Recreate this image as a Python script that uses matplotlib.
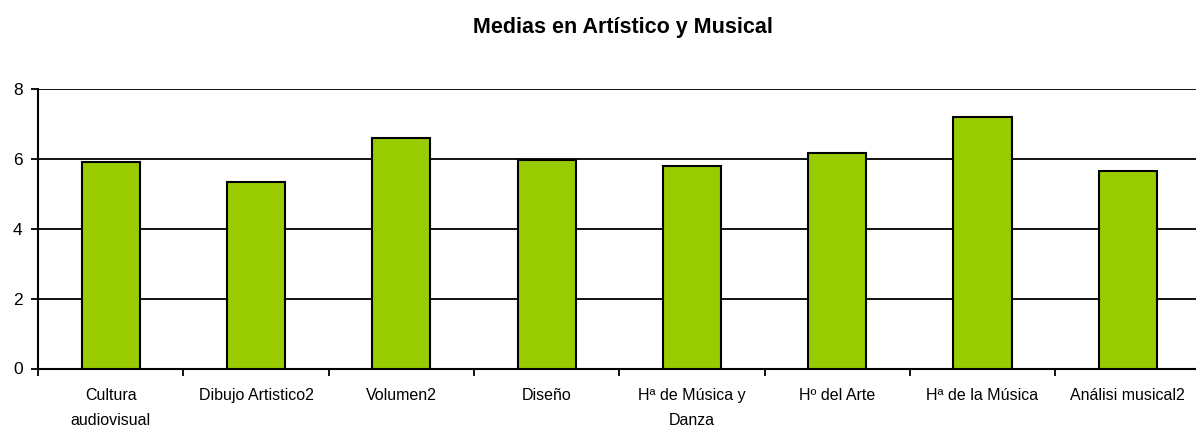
import matplotlib
matplotlib.use("Agg")
import matplotlib.pyplot as plt
import numpy as np

categories = ["Cultura\naudiovisual", "Dibujo Artistico2", "Volumen2", "Diseño",
              "Hª de Música y\nDanza", "Hº del Arte", "Hª de la Música", "Análisi musical2"]
values = [5.92, 5.35, 6.59, 5.97, 5.80, 6.18, 7.19, 5.65]
yticks = [0, 2, 4, 6, 8]
title = "Medias en Artístico y Musical"

plt.rcParams['font.family'] = ['Liberation Sans', 'DejaVu Sans']

fig = plt.figure(figsize=(11.96, 4.29), dpi=100)
W, H = 1196, 429
x0, x1 = 38, 1200.5
y0, y1 = 368.5, 89
ax = fig.add_axes([x0 / W, (H - y0) / H, (x1 - x0) / W, (y0 - y1) / H])

x = np.arange(len(categories))
ax.bar(x, values, width=0.4, color="#99CC00", edgecolor="black", linewidth=1.5, zorder=3)

ax.set_xlim(-0.5, len(categories) - 0.5)
ax.set_ylim(0, 8)
ax.set_yticks(yticks)
ax.set_yticklabels([str(v) for v in yticks], fontsize=12.5)
ax.yaxis.grid(True, color="black", linewidth=1.3, zorder=0)
ax.set_axisbelow(True)

ax.set_xticks(np.arange(len(categories) + 1) - 0.5)
ax.set_xticklabels([])
ax.set_xticks(x, minor=True)
ax.set_xticklabels(categories, minor=True, fontsize=11.5, linespacing=1.85, va="top")
ax.tick_params(axis="x", which="minor", length=0, pad=14)
ax.tick_params(axis="x", which="major", length=5, width=1.3, direction="out")
ax.tick_params(axis="y", length=5, width=1.3, direction="out", pad=6)

for s in ["top", "right"]:
    ax.spines[s].set_visible(False)
for s in ["left", "bottom"]:
    ax.spines[s].set_linewidth(1.5)

fig.text(622.5 / W, 1 - 28 / H, title, ha="center", va="center", fontsize=15.5, fontweight="bold")

fig.savefig("out.png", dpi=100)
